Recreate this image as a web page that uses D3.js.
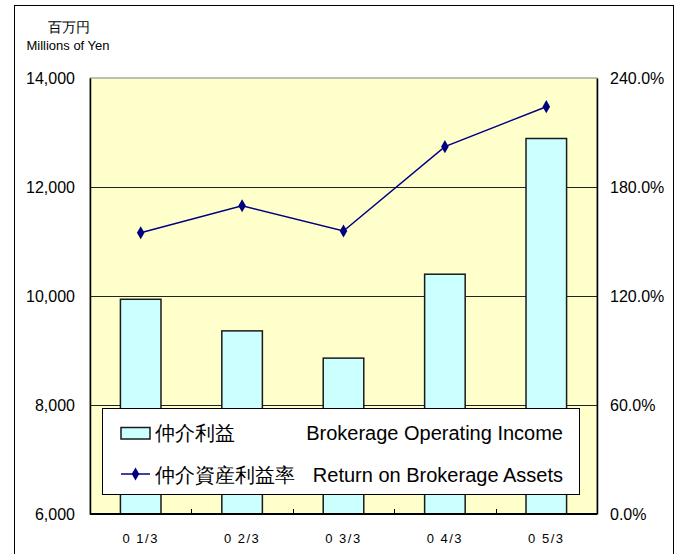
<!DOCTYPE html>
<html>
<head>
<meta charset="utf-8">
<script src="https://cdn.jsdelivr.net/npm/d3@7"></script>
<style>
  body { margin: 0; background: #fff; }
  svg { display: block; }
  text { font-family: "Liberation Sans", Arial, sans-serif; fill: #000; }
</style>
</head>
<body>
<div id="chart"></div>
<script>
// data
const categories = ['0 1/3', '0 2/3', '0 3/3', '0 4/3', '0 5/3'];
const incomeValues = [9940, 9360, 8860, 10400, 12890];   // millions of yen
const returnValues = [1.548, 1.697, 1.558, 2.022, 2.242]; // ratio
const leftTicks = [6000, 8000, 10000, 12000, 14000];
const rightTicks = [0, 0.6, 1.2, 1.8, 2.4];

const W = 683, H = 554;
const plot = {left: 90, right: 597, top: 78, bottom: 514};

const svg = d3.select('#chart').append('svg')
    .attr('width', W)
    .attr('height', H);

// outer frame
svg.append('rect')
    .attr('x', 14.5).attr('y', 5.5)
    .attr('width', 659).attr('height', 560)
    .attr('fill', '#fff')
    .attr('stroke', '#000')
    .attr('stroke-width', 1);

// scales
const x = d3.scaleBand()
    .domain(categories)
    .range([plot.left, plot.right])
    .padding(0);

const yLeft = d3.scaleLinear()
    .domain([6000, 14000])
    .range([plot.bottom, plot.top]);

const yRight = d3.scaleLinear()
    .domain([0, 2.4])
    .range([plot.bottom, plot.top]);

// plot area background
svg.append('rect')
    .attr('x', plot.left).attr('y', plot.top)
    .attr('width', plot.right - plot.left)
    .attr('height', plot.bottom - plot.top)
    .attr('fill', '#FFFFCC')
    .attr('stroke', '#808080')
    .attr('stroke-width', 1);

// grid lines
svg.append('g')
    .selectAll('line')
    .data(leftTicks.filter(d => d > 6000 && d < 14000))
    .enter()
    .append('line')
    .attr('x1', plot.left).attr('x2', plot.right)
    .attr('y1', d => Math.round(yLeft(d)) + 0.5)
    .attr('y2', d => Math.round(yLeft(d)) + 0.5)
    .attr('stroke', '#222')
    .attr('stroke-width', 1);

// bars
const barW = x.bandwidth() / 2.5;
svg.append('g')
    .selectAll('rect')
    .data(incomeValues)
    .enter()
    .append('rect')
    .attr('x', (d, i) => x(categories[i]) + (x.bandwidth() - barW) / 2)
    .attr('y', d => yLeft(d))
    .attr('width', barW)
    .attr('height', d => plot.bottom - yLeft(d))
    .attr('fill', '#CCFFFF')
    .attr('stroke', '#1a1a1a')
    .attr('stroke-width', 1.5);

// axes
const leftAxis = svg.append('g')
    .attr('transform', `translate(${plot.left},0)`)
    .call(d3.axisLeft(yLeft)
        .tickValues(leftTicks)
        .tickSize(0)
        .tickPadding(15)
        .tickFormat(d3.format(',')));
leftAxis.select('.domain').attr('stroke', '#000').attr('stroke-width', 1.5);
leftAxis.selectAll('text')
    .attr('font-size', '16px')
    .attr('font-family', '"Liberation Sans", Arial, sans-serif')
    .attr('fill', '#000');

const rightAxis = svg.append('g')
    .attr('transform', `translate(${plot.right},0)`)
    .call(d3.axisRight(yRight)
        .tickValues(rightTicks)
        .tickSize(0)
        .tickPadding(13)
        .tickFormat(d3.format('.1%')));
rightAxis.select('.domain').attr('stroke', '#000').attr('stroke-width', 1.5);
rightAxis.selectAll('text')
    .attr('font-size', '16px')
    .attr('font-family', '"Liberation Sans", Arial, sans-serif')
    .attr('fill', '#000');

// bottom axis line + category boundary ticks
svg.append('line')
    .attr('x1', plot.left).attr('x2', plot.right)
    .attr('y1', plot.bottom).attr('y2', plot.bottom)
    .attr('stroke', '#000')
    .attr('stroke-width', 2);

svg.append('g')
    .selectAll('line')
    .data(categories.slice(1))
    .enter()
    .append('line')
    .attr('x1', d => Math.round(x(d)) + 0.5)
    .attr('x2', d => Math.round(x(d)) + 0.5)
    .attr('y1', plot.bottom)
    .attr('y2', plot.bottom - 5)
    .attr('stroke', '#000');

svg.append('g')
    .selectAll('text')
    .data(categories)
    .enter()
    .append('text')
    .attr('x', d => x(d) + x.bandwidth() / 2)
    .attr('y', 543)
    .attr('text-anchor', 'middle')
    .attr('font-size', '13px')
    .attr('letter-spacing', '1.5px')
    .attr('font-family', '"Noto Sans CJK JP", sans-serif')
    .text(d => d);

// return line
const line = d3.line()
    .x((d, i) => x(categories[i]) + x.bandwidth() / 2)
    .y(d => yRight(d));

svg.append('path')
    .datum(returnValues)
    .attr('d', line)
    .attr('fill', 'none')
    .attr('stroke', '#000080')
    .attr('stroke-width', 1.5);

svg.append('g')
    .selectAll('path')
    .data(returnValues)
    .enter()
    .append('path')
    .attr('transform', (d, i) => `translate(${x(categories[i]) + x.bandwidth() / 2},${yRight(d)})`)
    .attr('d', d3.symbol().type(d3.symbolDiamond).size(50))
    .attr('fill', '#000080');

// unit labels
svg.append('text')
    .attr('x', 69).attr('y', 32)
    .attr('text-anchor', 'middle')
    .attr('font-size', '13.5px')
    .attr('font-family', '"Noto Sans CJK JP", sans-serif')
    .text('百万円');
svg.append('text')
    .attr('x', 68).attr('y', 50)
    .attr('text-anchor', 'middle')
    .attr('font-size', '13px')
    .text('Millions of Yen');

// legend
const legend = svg.append('g');
legend.append('rect')
    .attr('x', 102.5).attr('y', 408.5)
    .attr('width', 477).attr('height', 86)
    .attr('fill', '#fff')
    .attr('stroke', '#000')
    .attr('stroke-width', 1);

legend.append('rect')
    .attr('x', 121).attr('y', 427.5)
    .attr('width', 29).attr('height', 11.5)
    .attr('fill', '#CCFFFF')
    .attr('stroke', '#1a1a1a')
    .attr('stroke-width', 1.5);

legend.append('line')
    .attr('x1', 121).attr('x2', 150)
    .attr('y1', 474).attr('y2', 474)
    .attr('stroke', '#000080')
    .attr('stroke-width', 1.5);
legend.append('path')
    .attr('transform', 'translate(135.5,474)')
    .attr('d', d3.symbol().type(d3.symbolDiamond).size(50))
    .attr('fill', '#000080');

const legendRows = [
    {jp: '仲介利益', en: 'Brokerage Operating Income', y: 440},
    {jp: '仲介資産利益率', en: 'Return on Brokerage Assets', y: 482}
];
legend.selectAll('text.jp')
    .data(legendRows)
    .enter()
    .append('text')
    .attr('class', 'jp')
    .attr('x', 155)
    .attr('y', d => d.y)
    .attr('font-size', '20px')
    .attr('font-family', '"Noto Sans CJK JP", sans-serif')
    .text(d => d.jp);
legend.selectAll('text.en')
    .data(legendRows)
    .enter()
    .append('text')
    .attr('class', 'en')
    .attr('x', 563)
    .attr('y', d => d.y)
    .attr('text-anchor', 'end')
    .attr('font-size', '20px')
    .text(d => d.en);
</script>
</body>
</html>
